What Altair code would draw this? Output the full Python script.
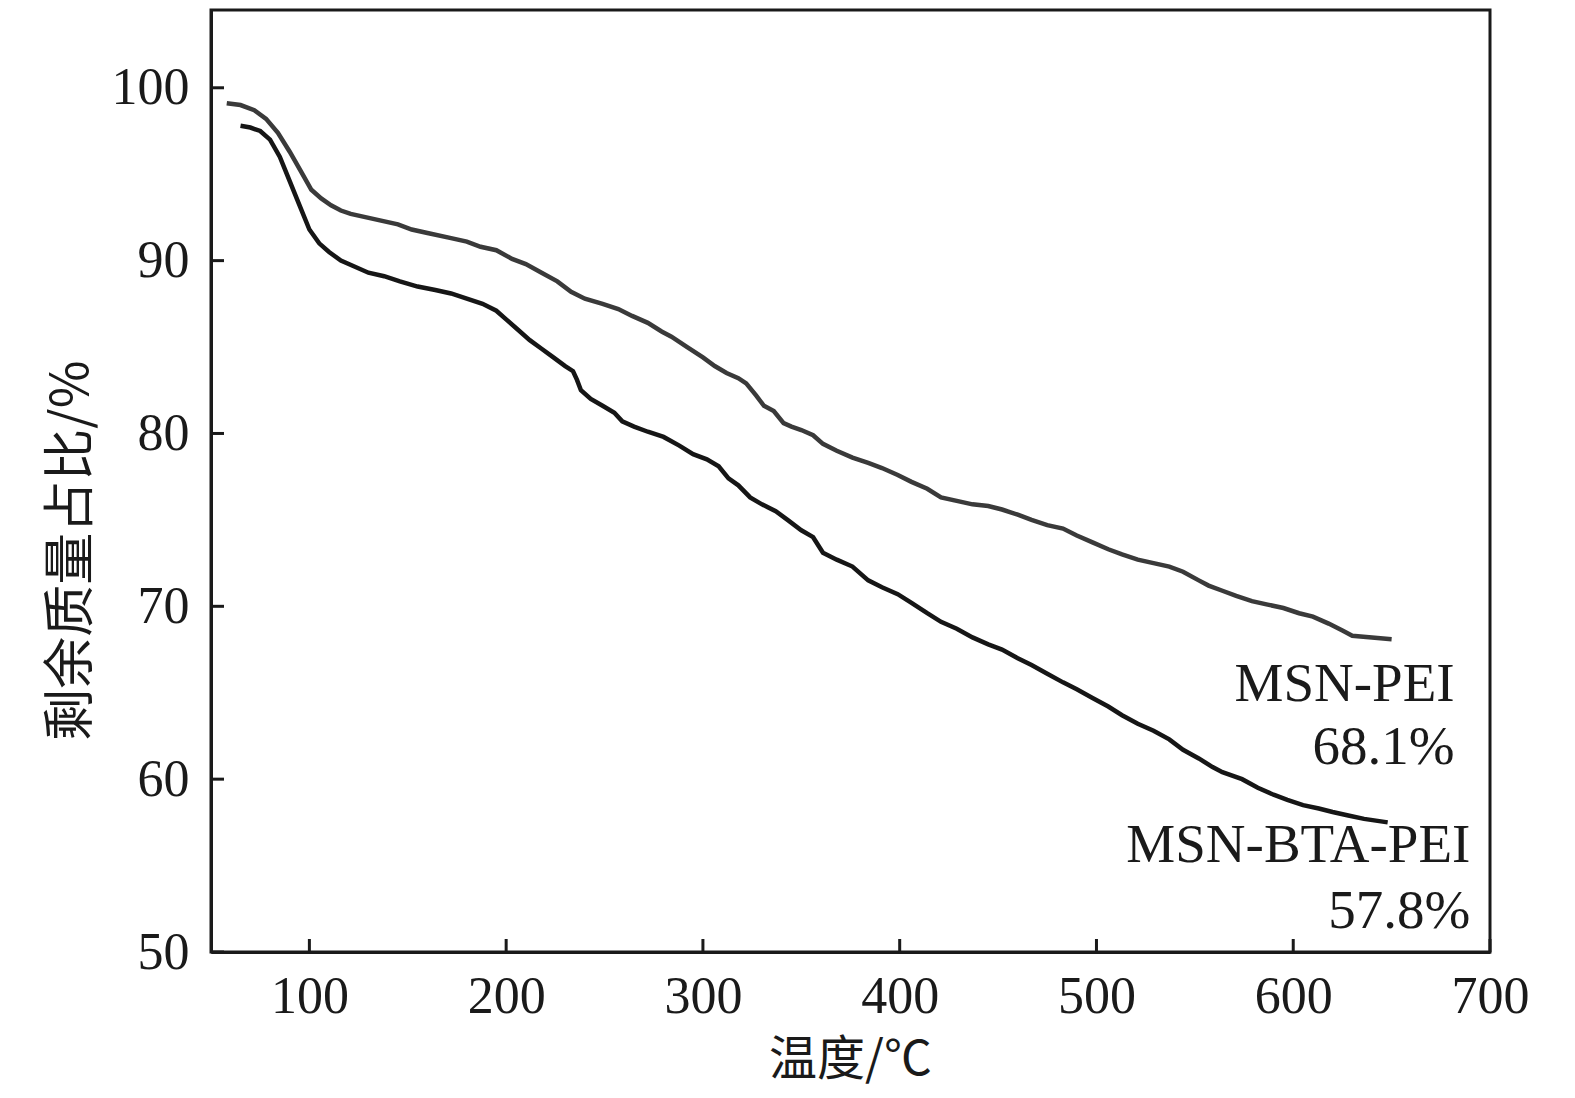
import altair as alt
import pandas as pd

# MSN-PEI (upper curve)
pei_t = [58, 65, 72, 78, 84, 90, 96, 101, 106, 111, 116, 121, 129, 137, 145, 152, 160, 172, 180, 187, 195, 203, 210, 218, 226, 233, 240, 249, 257, 264, 272, 279, 284, 292, 300, 306, 312, 318, 322, 327, 331, 336, 341, 345, 350, 356, 361, 368, 376, 384, 391, 399, 406, 414, 421, 429, 437, 445, 452, 460, 467, 475, 483, 490, 498, 506, 513, 521, 529, 537, 544, 552, 557, 564, 571, 579, 587, 595, 603, 610, 618, 625, 630, 640, 650]
pei_w = [99.1, 99.0, 98.7, 98.2, 97.4, 96.3, 95.1, 94.1, 93.6, 93.2, 92.9, 92.7, 92.5, 92.3, 92.1, 91.8, 91.6, 91.3, 91.1, 90.8, 90.6, 90.1, 89.8, 89.3, 88.8, 88.2, 87.8, 87.5, 87.2, 86.8, 86.4, 85.9, 85.6, 85.0, 84.4, 83.9, 83.5, 83.2, 82.9, 82.2, 81.6, 81.3, 80.6, 80.4, 80.2, 79.9, 79.4, 79.0, 78.6, 78.3, 78.0, 77.6, 77.2, 76.8, 76.3, 76.1, 75.9, 75.8, 75.6, 75.3, 75.0, 74.7, 74.5, 74.1, 73.7, 73.3, 73.0, 72.7, 72.5, 72.3, 72.0, 71.5, 71.2, 70.9, 70.6, 70.3, 70.1, 69.9, 69.6, 69.4, 69.0, 68.6, 68.3, 68.2, 68.1]

# MSN-BTA-PEI (lower curve)
bta_t = [65, 70, 75, 80, 85, 90, 95, 100, 105, 110, 116, 122, 130, 138, 146, 155, 164, 172, 180, 188, 195, 200, 206, 212, 218, 224, 230, 234, 236, 238, 243, 249, 255, 259, 265, 272, 280, 288, 295, 302, 308, 313, 318, 324, 330, 337, 343, 350, 356, 361, 368, 376, 384, 391, 399, 406, 414, 421, 429, 437, 445, 452, 460, 467, 475, 483, 490, 498, 506, 513, 521, 529, 537, 544, 552, 559, 564, 574, 582, 590, 597, 605, 613, 620, 628, 636, 642, 648]
bta_w = [97.8, 97.7, 97.5, 97.0, 96.0, 94.6, 93.2, 91.8, 91.0, 90.5, 90.0, 89.7, 89.3, 89.1, 88.8, 88.5, 88.3, 88.1, 87.8, 87.5, 87.1, 86.6, 86.0, 85.4, 84.9, 84.4, 83.9, 83.6, 83.1, 82.5, 82.0, 81.6, 81.2, 80.7, 80.4, 80.1, 79.8, 79.3, 78.8, 78.5, 78.1, 77.4, 77.0, 76.3, 75.9, 75.5, 75.0, 74.4, 74.0, 73.1, 72.7, 72.3, 71.5, 71.1, 70.7, 70.2, 69.6, 69.1, 68.7, 68.2, 67.8, 67.5, 67.0, 66.6, 66.1, 65.6, 65.2, 64.7, 64.2, 63.7, 63.2, 62.8, 62.3, 61.7, 61.2, 60.7, 60.4, 60.0, 59.5, 59.1, 58.8, 58.5, 58.3, 58.1, 57.9, 57.7, 57.6, 57.5]

series_names = ["MSN-PEI", "MSN-BTA-PEI"]
series_colors = ["#3a3a3a", "#161616"]

ann_text = ["MSN-PEI", "68.1%", "MSN-BTA-PEI", "57.8%"]
ann_x = [682, 682, 690, 690]
ann_y = [64.5, 60.9, 55.2, 51.4]

x_ticks = [100, 200, 300, 400, 500, 600, 700]
y_ticks = [50, 60, 70, 80, 90, 100]

df = pd.concat([
    pd.DataFrame({"t": pei_t, "w": pei_w, "s": series_names[0]}),
    pd.DataFrame({"t": bta_t, "w": bta_w, "s": series_names[1]}),
])
ann = pd.DataFrame({"t": ann_x, "w": ann_y, "label": ann_text})
xt = pd.DataFrame({"t": x_ticks})
yt = pd.DataFrame({"w": y_ticks})

W, H = 1279, 942
FONT = "Liberation Serif"
CJK = "Noto Sans CJK SC"

xscale = alt.Scale(domain=[50, 700], nice=False, zero=False)
yscale = alt.Scale(domain=[50, 104.5], nice=False, zero=False)

xaxis = alt.Axis(values=x_ticks, ticks=False, grid=False, labelFont=FONT, labelFontSize=52,
                 labelColor="#1a1a1a", labelPadding=19, labelFlush=False, labelOverlap=False,
                 domainColor="#1a1a1a", domainWidth=3,
                 title="温度/℃", titleFont=CJK, titleFontSize=48, titleFontWeight="normal",
                 titleColor="#1a1a1a", titleX=639, titleY=108, titleAnchor=None,
                 titleAlign="center", titleBaseline="middle")
yaxis = alt.Axis(values=y_ticks, ticks=False, grid=False, labelFont=FONT, labelFontSize=52,
                 labelColor="#1a1a1a", labelPadding=22, labelFlush=False, labelOverlap=False,
                 domainColor="#1a1a1a", domainWidth=3,
                 title="剩余质量占比/%", titleFont=CJK, titleFontSize=52, titleFontWeight="normal",
                 titleColor="#1a1a1a", titleX=-140, titleY=540, titleAlign="center",
                 titleBaseline="middle")

lines = alt.Chart(df).mark_line(strokeWidth=4.5, interpolate="linear").encode(
    x=alt.X("t:Q", scale=xscale, axis=xaxis),
    y=alt.Y("w:Q", scale=yscale, axis=yaxis),
    color=alt.Color("s:N", scale=alt.Scale(domain=series_names, range=series_colors), legend=None),
    detail="s:N",
)

xtick_marks = alt.Chart(xt).mark_rule(color="#1a1a1a", strokeWidth=3).encode(
    x=alt.X("t:Q", scale=xscale),
    y=alt.value(H - 13),
    y2=alt.value(H),
)
ytick_marks = alt.Chart(yt).mark_rule(color="#1a1a1a", strokeWidth=3).encode(
    y=alt.Y("w:Q", scale=yscale),
    x=alt.value(0),
    x2=alt.value(13),
)

labels = alt.Chart(ann).mark_text(font=FONT, fontSize=55, align="right", baseline="alphabetic",
                                  color="#1a1a1a").encode(
    x=alt.X("t:Q", scale=xscale),
    y=alt.Y("w:Q", scale=yscale),
    text="label:N",
)

chart = alt.layer(lines, xtick_marks, ytick_marks, labels).properties(
    width=W, height=H,
    autosize=alt.AutoSizeParams(type="none"),
    padding={"left": 203, "top": 2, "right": 50, "bottom": 138},
    background="white",
).configure_view(stroke="#1a1a1a", strokeWidth=3)

chart.save("out.html", embed_options={"renderer": "svg", "actions": False})
